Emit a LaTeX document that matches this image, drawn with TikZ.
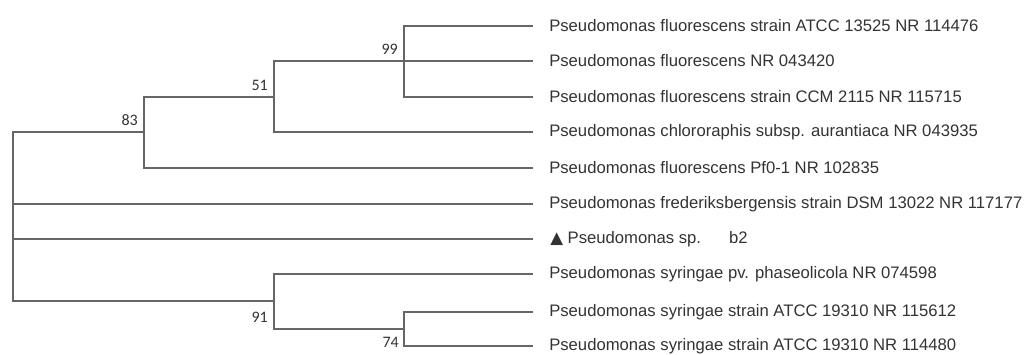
\documentclass[tikz,border=0pt]{standalone}
\usepackage{fontspec}
\setmainfont{Liberation Sans}
\newfontfamily\bootfont{Carlito}
\newfontfamily\symfont{DejaVu Sans}
\definecolor{treegray}{HTML}{666666}
\definecolor{labelgray}{HTML}{333333}
\tikzset{
	branch/.style={draw=treegray, line width=1.5pt},
	taxon/.style={anchor=west, inner sep=0pt, text=labelgray, font=\fontsize{12.5}{14}\selectfont},
	boot/.style={anchor=east, inner sep=0pt, text=labelgray, font=\bootfont\fontsize{12}{14}\selectfont},
}
\begin{document}
\begin{tikzpicture}[x=0.75pt, y=-0.75pt]
\useasboundingbox (0, 0) rectangle (1030, 354);

%inner nodes
\coordinate (root) at (13, 217);
\coordinate (n83) at (144, 132);
\coordinate (n51) at (274, 97);
\coordinate (n99) at (404, 61);
\coordinate (n91) at (274, 301);
\coordinate (n74) at (404, 329);

%leaf ends
\coordinate (t1) at (533, 26);
\coordinate (t2) at (533, 61);
\coordinate (t3) at (533, 97);
\coordinate (t4) at (533, 132);
\coordinate (t5) at (533, 168);
\coordinate (t6) at (533, 204);
\coordinate (t7) at (533, 239);
\coordinate (t8) at (533, 274);
\coordinate (t9) at (533, 312);
\coordinate (t10) at (533, 346);

%taxa
\node[taxon] (l1) at (549, 26) {Pseudomonas fluorescens strain ATCC 13525 NR 114476};
\node[taxon] (l2) at (549, 61) {Pseudomonas fluorescens NR 043420};
\node[taxon] (l3) at (549, 97) {Pseudomonas fluorescens strain CCM 2115 NR 115715};
\node[taxon] (l4) at (549, 132) {Pseudomonas chlororaphis subsp. aurantiaca NR 043935};
\node[taxon] (l5) at (549, 168) {Pseudomonas fluorescens Pf0-1 NR 102835};
\node[taxon] (l6) at (549, 204) {Pseudomonas frederiksbergensis strain DSM 13022 NR 117177};
\node[taxon] (l7) at (550, 239) {{\symfont ▲} Pseudomonas sp.\hspace{21pt}b2};
\node[taxon] (l8) at (549, 274) {Pseudomonas syringae pv. phaseolicola NR 074598};
\node[taxon] (l9) at (549, 312) {Pseudomonas syringae strain ATCC 19310 NR 115612};
\node[taxon] (l10) at (549, 346) {Pseudomonas syringae strain ATCC 19310 NR 114480};

%branches
\draw[branch] (root) |- (n83);
\draw[branch] (root) |- (t6);
\draw[branch] (root) |- (t7);
\draw[branch] (root) |- (n91);

\draw[branch] (n83) |- (n51);
\draw[branch] (n83) |- (t5);
\draw[branch] (n51) |- (n99);
\draw[branch] (n51) |- (t4);
\draw[branch] (n99) |- (t1);
\draw[branch] (n99) |- (t2);
\draw[branch] (n99) |- (t3);

\draw[branch] (n91) |- (t8);
\draw[branch] (n91) |- (n74);
\draw[branch] (n74) |- (t9);
\draw[branch] (n74) |- (t10);

%bootstrap values
\node[boot] (b99) at (398, 49) {99};
\node[boot] (b51) at (268, 85) {51};
\node[boot] (b83) at (138, 120) {83};
\node[boot] (b91) at (268, 317) {91};
\node[boot] (b74) at (399, 342) {74};

\end{tikzpicture}
\end{document}
